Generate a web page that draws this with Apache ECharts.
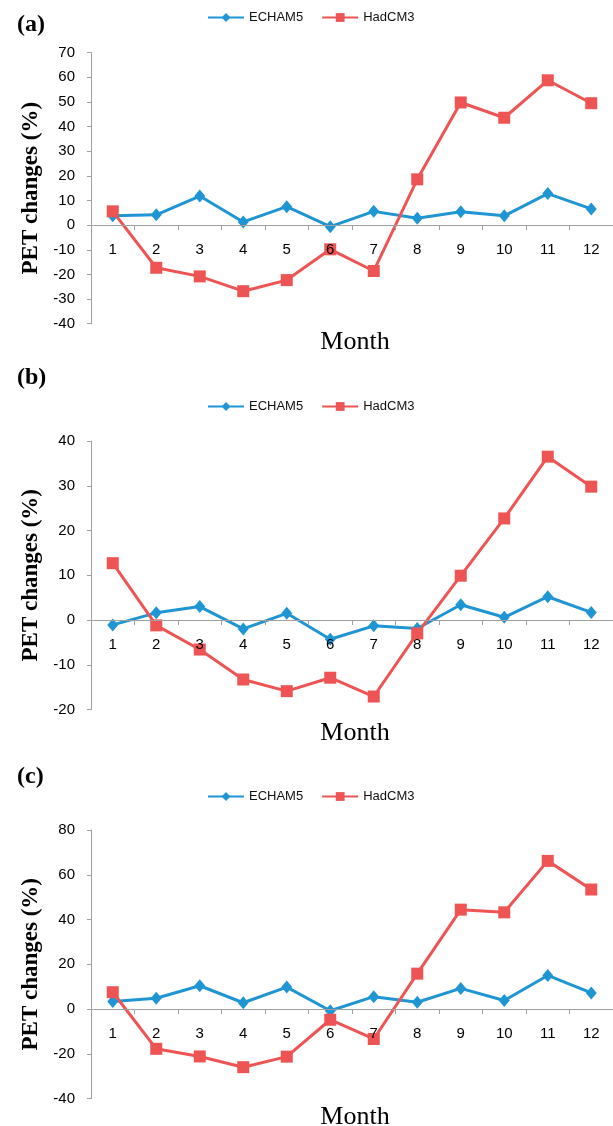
<!DOCTYPE html>
<html>
<head>
<meta charset="utf-8">
<script src="https://cdn.jsdelivr.net/npm/echarts@6/dist/echarts.min.js"></script>
<style>
html,body{margin:0;padding:0;background:#fff;}
#chart{width:613px;height:1126px;}
</style>
</head>
<body>
<div id="chart"></div>
<script>
// ---- data ----
const months = ['1','2','3','4','5','6','7','8','9','10','11','12'];
const seriesNames = ['ECHAM5', 'HadCM3'];

const echamA = [3.8, 4.2, 11.8, 1.3, 7.5, -0.6, 5.6, 2.8, 5.4, 3.8, 12.8, 6.6];
const hadA   = [5.6, -17.3, -20.8, -26.8, -22.3, -9.8, -18.6, 18.6, 49.8, 43.6, 58.8, 49.5];

const echamB = [-1.1, 1.6, 3.0, -2.0, 1.5, -4.3, -1.3, -1.9, 3.4, 0.6, 5.2, 1.7];
const hadB   = [12.7, -1.2, -6.6, -13.3, -15.9, -12.9, -17.1, -3.0, 9.9, 22.7, 36.5, 29.8];

const echamC = [3.4, 4.8, 10.4, 2.8, 9.8, -0.8, 5.5, 3.0, 9.2, 3.8, 15.0, 7.2];
const hadC   = [7.5, -17.8, -21.2, -26.0, -21.3, -4.8, -13.4, 15.8, 44.4, 43.2, 66.2, 53.4];

const ticksA = [-40, -30, -20, -10, 0, 10, 20, 30, 40, 50, 60, 70];
const ticksB = [-20, -10, 0, 10, 20, 30, 40];
const ticksC = [-40, -20, 0, 20, 40, 60, 80];

const panelLabels = ['(a)', '(b)', '(c)'];
const yAxisTitle = 'PET changes (%)';
const xAxisTitle = 'Month';

// ---- layout / style ----
const BLUE = '#1f96d3';
const RED = '#ee5453';
const AXIS = '#a0a0a0';
const panels = [
  {top: 52.7, height: 271, ech: echamA, had: hadA, ticks: ticksA, legendTop: 11, labelY: 25, monthY: 342},
  {top: 441, height: 268.5, ech: echamB, had: hadB, ticks: ticksB, legendTop: 400, labelY: 378, monthY: 733},
  {top: 830, height: 268.5, ech: echamC, had: hadC, ticks: ticksC, legendTop: 790, labelY: 777, monthY: 1117}
];
const gridLeft = 91;
const gridWidth = 529;

const option = {
  backgroundColor: '#fff',
  animation: false,
  grid: [], xAxis: [], yAxis: [], series: [], legend: [], graphic: []
};

panels.forEach((p, i) => {
  const yMin = p.ticks[0], yMax = p.ticks[p.ticks.length - 1];
  // move the category axis up to the zero line of the value axis
  const zeroOffset = -p.height * (0 - yMin) / (yMax - yMin);
  option.grid.push({left: gridLeft, top: p.top, width: gridWidth, height: p.height, containLabel: false});
  option.xAxis.push({
    type: 'category', gridIndex: i, data: months, boundaryGap: true,
    position: 'bottom', offset: zeroOffset, z: 5,
    axisLine: {onZero: false, lineStyle: {color: AXIS, width: 1}},
    axisTick: {show: true, length: 5, lineStyle: {color: AXIS}},
    axisLabel: {margin: 17, fontSize: 15, color: '#000', fontFamily: 'Liberation Sans, Arial, sans-serif'},
    splitLine: {show: false}
  });
  option.yAxis.push({
    type: 'value', gridIndex: i,
    min: yMin, max: yMax, interval: p.ticks[1] - p.ticks[0],
    name: yAxisTitle, nameLocation: 'middle', nameGap: 44, nameRotate: 90,
    nameTextStyle: {fontFamily: 'Liberation Serif, Times New Roman, serif', fontWeight: 'bold', fontSize: 23, color: '#000'},
    axisLine: {show: true, lineStyle: {color: AXIS, width: 1}},
    axisTick: {show: true, length: 4, lineStyle: {color: AXIS}},
    axisLabel: {margin: 16, fontSize: 15, color: '#000', fontFamily: 'Liberation Sans, Arial, sans-serif'},
    splitLine: {show: false}
  });
  option.series.push({
    name: seriesNames[0], type: 'line', xAxisIndex: i, yAxisIndex: i, data: p.ech,
    symbol: 'diamond', symbolSize: [11, 13], showAllSymbol: true,
    lineStyle: {color: BLUE, width: 3}, itemStyle: {color: BLUE}
  });
  option.series.push({
    name: seriesNames[1], type: 'line', xAxisIndex: i, yAxisIndex: i, data: p.had,
    symbol: 'rect', symbolSize: 12, showAllSymbol: true,
    lineStyle: {color: RED, width: 3}, itemStyle: {color: RED}
  });
  option.legend.push({
    data: seriesNames, left: 207, top: p.legendTop, padding: 0,
    itemWidth: 36, itemHeight: 11, itemGap: 18,
    textStyle: {fontSize: 13, color: '#111', fontFamily: 'Liberation Sans, Arial, sans-serif'}
  });
  option.graphic.push({
    type: 'text', x: 17, y: p.labelY,
    style: {text: panelLabels[i], font: 'bold 24px "Liberation Serif", "Times New Roman", serif', fill: '#000', textAlign: 'left', textVerticalAlign: 'middle'}
  });
  option.graphic.push({
    type: 'text', x: 355, y: p.monthY,
    style: {text: xAxisTitle, font: '26px "Liberation Serif", "Times New Roman", serif', fill: '#000', textAlign: 'center', textVerticalAlign: 'middle'}
  });
});

const chart = echarts.init(document.getElementById('chart'), null, {renderer: 'canvas'});
chart.setOption(option);
</script>
</body>
</html>
